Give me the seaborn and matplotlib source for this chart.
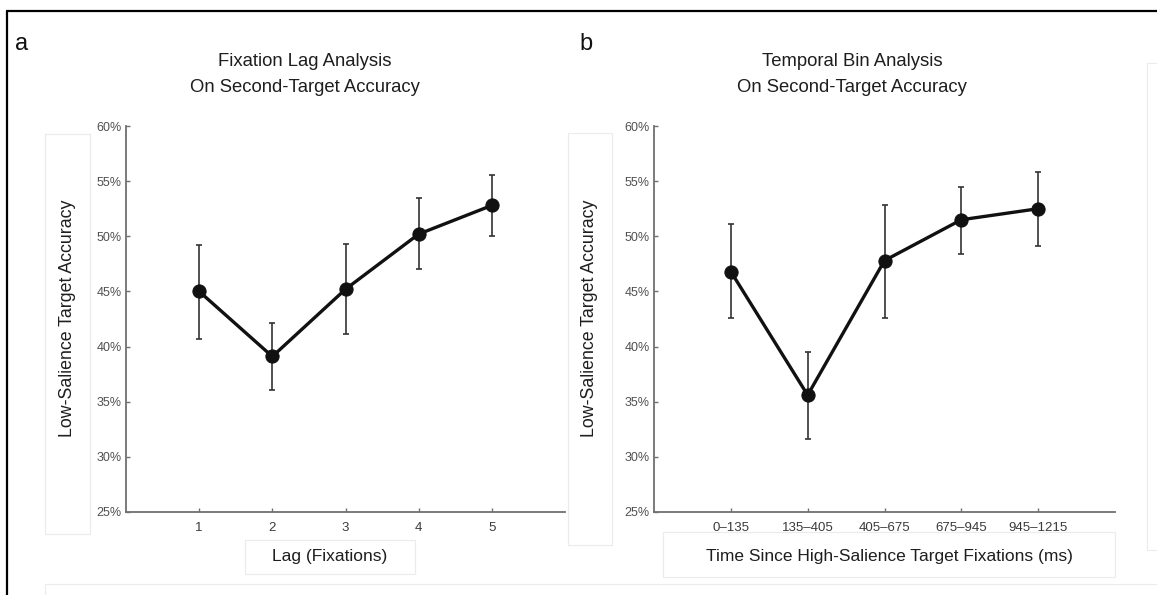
import matplotlib
matplotlib.use("Agg")
import matplotlib.pyplot as plt
import seaborn as sns
import numpy as np
import pandas as pd
from matplotlib.patches import Rectangle
from matplotlib.lines import Line2D
from matplotlib.ticker import PercentFormatter

# ---------------- data ----------------
lag_positions = [1, 2, 3, 4, 5]
lag_labels = ["1", "2", "3", "4", "5"]
lag_acc = [45.0, 39.1, 45.2, 50.2, 52.8]
lag_low = [40.7, 36.1, 41.1, 47.0, 50.0]
lag_high = [49.2, 42.1, 49.3, 53.5, 55.6]

bin_positions = [1, 2, 3, 4, 5]
bin_labels = ["0\u2013135", "135\u2013405", "405\u2013675", "675\u2013945", "945\u20131215"]
bin_acc = [46.8, 35.6, 47.8, 51.5, 52.5]
bin_low = [42.6, 31.6, 42.6, 48.4, 49.1]
bin_high = [51.1, 39.5, 52.8, 54.5, 55.8]

y_ticks = [25, 30, 35, 40, 45, 50, 55, 60]

titles = [["Fixation Lag Analysis", "On Second-Target Accuracy"],
          ["Temporal Bin Analysis", "On Second-Target Accuracy"]]
ylab = "Low-Salience Target Accuracy"
xlabs = ["Lag (Fixations)", "Time Since High-Salience Target Fixations (ms)"]
panel_letters = ["a", "b"]

# ---------------- style ----------------
sns.set_theme(style="white")
plt.rcParams['font.family'] = ['Liberation Sans', 'DejaVu Sans']

W, H = 1157, 595
fig = plt.figure(figsize=(W / 100, H / 100), dpi=100)
fig.patch.set_facecolor("white")

def fx(px):
    return px / W

def fy(py):
    return 1 - py / H

axes_px = [(126, 565), (654, 1115)]
top_px, bot_px = 126, 512

spine_c = "#707070"
tick_c = "#505050"

datasets = [
    (lag_positions, lag_labels, lag_acc, lag_low, lag_high),
    (bin_positions, bin_labels, bin_acc, bin_low, bin_high),
]

for i, ((l, r), (pos, labs, acc, lo, hi)) in enumerate(zip(axes_px, datasets)):
    ax = fig.add_axes([fx(l), fy(bot_px), (r - l) / W, (bot_px - top_px) / H])
    df = pd.DataFrame({"x": pos, "y": acc})
    acc_arr = np.array(acc)
    yerr = np.vstack([acc_arr - np.array(lo), np.array(hi) - acc_arr])
    ax.errorbar(pos, acc, yerr=yerr, fmt="none", ecolor="#333333",
                elinewidth=1.2, capsize=2.2, capthick=1.2, zorder=2)
    sns.lineplot(data=df, x="x", y="y", ax=ax, color="#111111",
                 linewidth=2.4, marker="o", markersize=9.5,
                 markeredgecolor="#111111", markerfacecolor="#111111", zorder=3)
    ax.set_xlim(0, 6)
    ax.set_ylim(25, 60)
    ax.set_xticks(pos)
    ax.set_xticklabels(labs)
    ax.set_yticks(y_ticks)
    ax.yaxis.set_major_formatter(PercentFormatter(decimals=0))
    ax.set_xlabel("")
    ax.set_ylabel("")
    for s in ["top", "right"]:
        ax.spines[s].set_visible(False)
    for s in ["left", "bottom"]:
        ax.spines[s].set_color(spine_c)
        ax.spines[s].set_linewidth(1.3)
    ax.tick_params(axis="both", direction="in", length=3, width=1.0,
                   color=spine_c, labelcolor=tick_c,
                   left=True, bottom=True)
    ax.tick_params(axis="y", labelsize=9, pad=3)
    ax.tick_params(axis="x", labelsize=9.5, labelcolor="#3a3a3a", pad=7)
    ax.patch.set_alpha(0)

# ---------------- decorative boxes (faint) ----------------
box_c = "#ebebeb"
boxes = [
    (45, 134, 90, 534),     # ylabel a
    (568, 133, 612, 545),   # ylabel b
    (245, 540, 415, 574),   # xlabel a
    (663, 532, 1115, 577),  # xlabel b
    (1147, 63, 1170, 550),  # right edge box
    (45, 584, 1170, 620),   # bottom box
]
for (x0, y0, x1, y1) in boxes:
    fig.add_artist(Rectangle((fx(x0), fy(y1)), (x1 - x0) / W, (y1 - y0) / H,
                             transform=fig.transFigure, fill=False,
                             edgecolor=box_c, linewidth=0.8, zorder=0))

# ---------------- texts ----------------
txt_c = "#1e1e1e"
fig.text(fx(67), fy(318), ylab, rotation=90, ha="center", va="center",
         fontsize=12.8, color=txt_c)
fig.text(fx(590), fy(318), ylab, rotation=90, ha="center", va="center",
         fontsize=12.8, color=txt_c)
fig.text(fx(330), fy(557), xlabs[0], ha="center", va="center",
         fontsize=12.5, color=txt_c)
fig.text(fx(889), fy(557), xlabs[1], ha="center", va="center",
         fontsize=12.5, color=txt_c)

title_cx = [305, 852]
for cx, (t1, t2) in zip(title_cx, titles):
    fig.text(fx(cx), fy(62), t1, ha="center", va="center", fontsize=13.3, color=txt_c)
    fig.text(fx(cx), fy(88), t2, ha="center", va="center", fontsize=13.3, color=txt_c)

fig.text(fx(22), fy(44), panel_letters[0], ha="center", va="center", fontsize=17, color="#111111")
fig.text(fx(586), fy(44), panel_letters[1], ha="center", va="center", fontsize=17, color="#111111")

# ---------------- outer border (top & left) ----------------
fig.add_artist(Line2D([fx(7), 1.0], [fy(10.5), fy(10.5)], transform=fig.transFigure,
                      color="black", linewidth=1.6))
fig.add_artist(Line2D([fx(7), fx(7)], [fy(10.5), 0.0], transform=fig.transFigure,
                      color="black", linewidth=1.6))

fig.savefig("out.png", dpi=100, facecolor="white")
